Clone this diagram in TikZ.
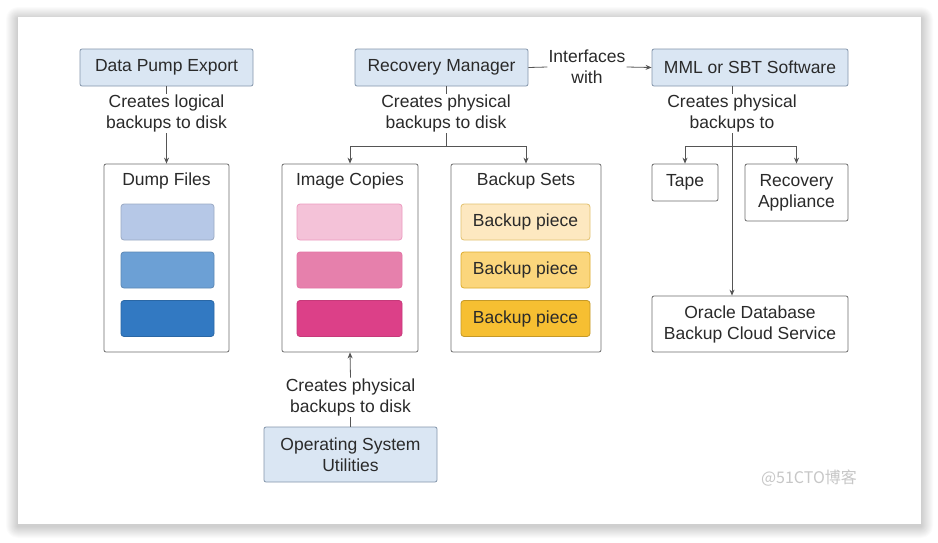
\documentclass[tikz,border=0pt]{standalone}
\usepackage{fontspec}
\setmainfont{Liberation Sans}
\newfontfamily\cjk{Noto Sans CJK SC}
\usetikzlibrary{arrows.meta,calc}
\definecolor{blueF}{HTML}{DAE6F3}
\definecolor{blueD}{HTML}{8496AB}
\definecolor{txt}{HTML}{2A2A2A}
\definecolor{lin}{HTML}{555555}
\definecolor{boxD}{HTML}{6E6E6E}
\definecolor{dA}{HTML}{B6C8E7}
\definecolor{dB}{HTML}{6CA0D5}
\definecolor{dC}{HTML}{3279C2}
\definecolor{pA}{HTML}{F4C2D8}
\definecolor{pB}{HTML}{E680AC}
\definecolor{pC}{HTML}{DC4088}
\definecolor{yA}{HTML}{FDE8C0}
\definecolor{yB}{HTML}{FBD67C}
\definecolor{yC}{HTML}{F6BF32}
\begin{document}
\begin{tikzpicture}[x=1pt,y=-1pt,
  font=\fontsize{17.5}{21}\selectfont,
  every node/.style={text=txt, inner sep=0pt},
  topbox/.style={draw=blueD, fill=blueF, rounded corners=2pt, line width=0.8pt, align=center},
  cont/.style={draw=boxD, fill=white, rounded corners=2pt, line width=0.8pt},
  piece/.style={rounded corners=3pt, line width=0.8pt, minimum height=36pt},
  lbl/.style={fill=white, align=center, inner sep=1pt},
  conn/.style={draw=lin, line width=0.8pt},
  arr/.style={conn, -{Stealth[length=6pt,width=5pt]}}
]
\useasboundingbox (0,0) rectangle (938,542);
\fill[white] (0,0) rectangle (938,542);
% card shadow
\foreach \i in {1,...,12}{
  \fill[black, opacity=0.014, rounded corners=\i pt] (18-\i,17-\i+2) rectangle (921+\i,524+\i+2);
}
\fill[white] (18,17) rectangle (921,524);

% top boxes
\node[topbox, minimum width=173pt, minimum height=37pt] (dpe) at (166.5,67.5) {Data Pump Export};
\node[topbox, minimum width=173pt, minimum height=37pt] (rm) at (441.5,67.5) {Recovery Manager};
\node[topbox, minimum width=196pt, minimum height=37pt] (mml) at (750,67.5) {MML or SBT Software};
\node[topbox, minimum width=173pt, minimum height=55pt] (os) at (350.5,454.5) {Operating System\\Utilities};

% containers
\node[cont, minimum width=125pt, minimum height=188pt] (dump) at (166.5,258) {};
\node[cont, minimum width=136pt, minimum height=188pt] (img) at (350,258) {};
\node[cont, minimum width=150pt, minimum height=188pt] (bset) at (526,258) {};
\node[cont, minimum width=66pt, minimum height=37pt] (tape) at (685,182.5) {Tape};
\node[cont, minimum width=103pt, minimum height=57pt, align=center] (ra) at (796.5,192.5) {Recovery\\Appliance};
\node[cont, minimum width=196pt, minimum height=56pt, align=center] (odb) at (750,324) {Oracle Database\\Backup Cloud Service};

% titles
\node (dumpt) at (166.5,181) {Dump Files};
\node (imgt) at (350,181) {Image Copies};
\node (bsett) at (526,181) {Backup Sets};

% pieces
\node[piece, draw=dA!85!black, fill=dA, minimum width=93pt] (d1) at (167.5,222) {};
\node[piece, draw=dB!85!black, fill=dB, minimum width=93pt] (d2) at (167.5,270) {};
\node[piece, draw=dC!85!black, fill=dC, minimum width=93pt] (d3) at (167.5,318.5) {};
\node[piece, draw=pA!70!pC, fill=pA, minimum width=105pt] (p1) at (349.5,222) {};
\node[piece, draw=pB!80!pC, fill=pB, minimum width=105pt] (p2) at (349.5,270) {};
\node[piece, draw=pC!90!black, fill=pC, minimum width=105pt] (p3) at (349.5,318.5) {};
\node[piece, draw=yB!90!black, fill=yA, minimum width=129pt] (b1) at (525.5,222) {Backup piece};
\node[piece, draw=yC!90!black, fill=yB, minimum width=129pt] (b2) at (525.5,270) {Backup piece};
\node[piece, draw=yC!80!black, fill=yC, minimum width=129pt] (b3) at (525.5,318.5) {Backup piece};

% labels
\node[lbl] (l1) at (166.5,113.5) {Creates logical\\backups to disk};
\node[lbl] (l2) at (446,113.5) {Creates physical\\backups to disk};
\node[lbl] (l3) at (732,113.5) {Creates physical\\backups to};
\node[lbl] (l4) at (350.5,397.5) {Creates physical\\backups to disk};
\node[lbl] (lif) at (587,67) {Interfaces\\with};

% connectors
\draw[conn] (dpe.south) -- (l1.north);
\draw[arr] (l1.south) -- (dump.north);

\draw[conn] (rm.south -| l2.north) -- (l2.north);
\coordinate (br1) at (446,146);
\draw[conn] (l2.south) -- (br1);
\draw[arr] (br1) -| (img.north);
\draw[arr] (br1) -| (bset.north);

\draw[conn] (os.north) -- (l4.south);
\draw[arr] (l4.north) -- (img.south);

\draw[conn] (rm.east) -- (lif.west);
\draw[arr] (lif.east) -- (mml.west);

\coordinate (br2) at (732,146);
\draw[conn] (mml.south -| l3.north) -- (l3.north);
\draw[arr] (l3.south) -- (l3.south |- odb.north);
\draw[arr] (br2) -| (tape.north);
\draw[arr] (br2) -| (ra.north);

% watermark
\node[text=black!22, font=\fontsize{16}{18}\selectfont\cjk] (wm) at (809,478) {@51CTO博客};
\end{tikzpicture}
\end{document}
